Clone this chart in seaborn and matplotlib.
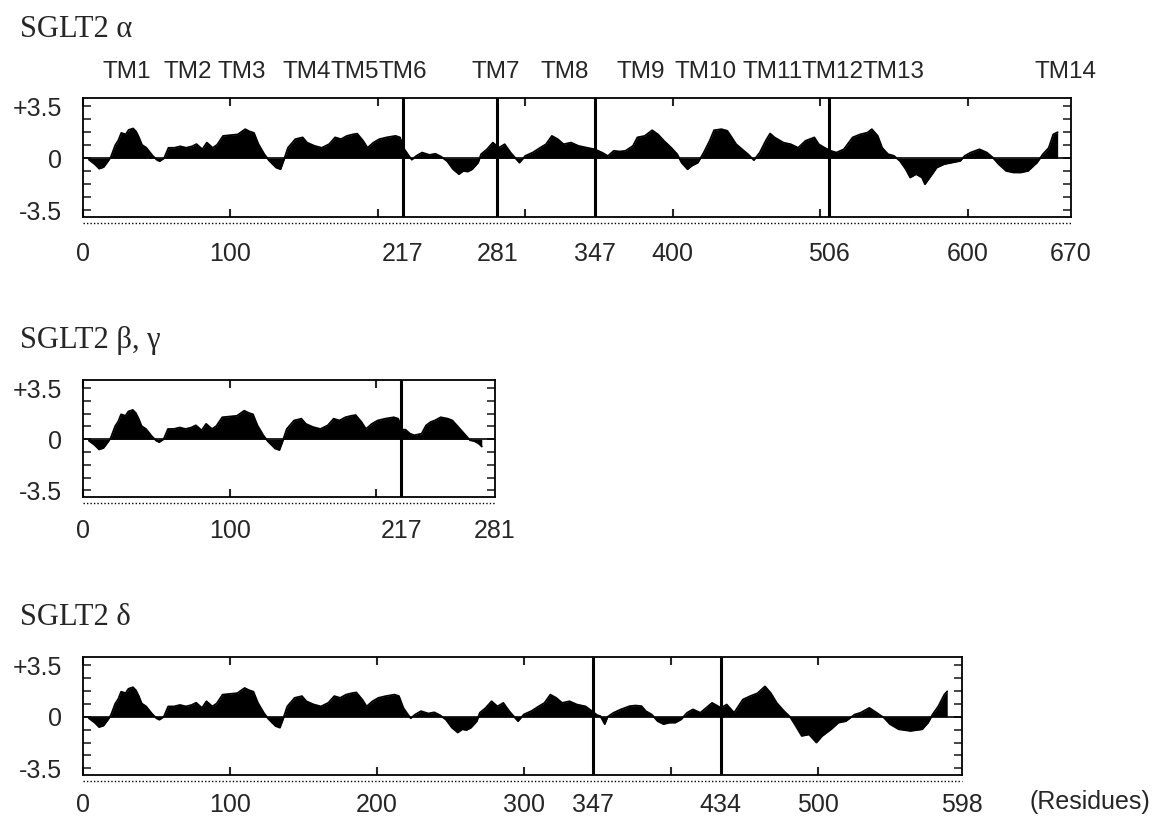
import matplotlib.pyplot as plt
import matplotlib.transforms as mtransforms
import pandas as pd
import seaborn as sns
from matplotlib.ticker import MultipleLocator

# Hydropathy profile of SGLT2 alpha (residue, value)
alpha_res = [4, 8, 11, 14, 17, 19, 22, 24, 26, 29, 31, 34, 36, 38, 40, 43, 47, 50, 52, 55,
             58, 62, 66, 70, 74, 77, 81, 84, 88, 91, 95, 100, 105, 110, 113, 116, 119, 123, 126, 131,
             134, 136, 139, 144, 149, 152, 157, 162, 167, 171, 175, 179, 183, 186, 190, 193, 197, 201, 206, 212,
             215, 218, 221, 223, 226, 230, 235, 239, 243, 247, 251, 255, 258, 261, 264, 268, 270, 274, 278, 282,
             286, 290, 293, 296, 300, 305, 310, 314, 318, 322, 326, 331, 336, 342, 347, 352, 356, 360, 364, 368,
             373, 376, 381, 386, 390, 394, 399, 403, 406, 410, 413, 417, 421, 425, 428, 433, 437, 440, 443, 447,
             451, 455, 459, 463, 466, 469, 475, 480, 485, 490, 496, 499, 503, 507, 511, 516, 522, 527, 532, 535,
             539, 542, 546, 550, 554, 558, 561, 565, 569, 571, 575, 579, 584, 589, 595, 598, 602, 608, 613, 617,
             621, 626, 631, 636, 641, 647, 651, 655, 658, 661]
alpha_hyd = [-0.1, -0.4, -0.7, -0.6, -0.2, 0.1, 0.9, 1.2, 1.7, 1.6, 1.9, 2.0, 1.8, 1.4, 0.9, 0.7, 0.2, -0.1, -0.2, 0.0,
             0.7, 0.7, 0.8, 0.7, 0.8, 0.95, 0.6, 1.05, 0.7, 0.9, 1.5, 1.55, 1.6, 1.95, 1.8, 1.7, 0.95, 0.27, -0.13, -0.63,
             -0.74, -0.2, 0.7, 1.28, 1.4, 1.05, 0.83, 0.7, 0.95, 1.4, 1.28, 1.5, 1.6, 1.65, 1.17, 0.7, 1.05, 1.28, 1.4, 1.5,
             1.4, 0.6, 0.16, -0.1, 0.15, 0.38, 0.22, 0.3, 0.1, -0.2, -0.74, -1.07, -0.85, -0.9, -0.74, -0.3, 0.27, 0.6, 1.05, 0.7,
             0.94, 0.38, 0.04, -0.3, 0.16, 0.38, 0.7, 0.94, 1.5, 1.28, 0.94, 1.05, 0.83, 0.7, 0.6, 0.38, 0.15, 0.5, 0.45, 0.5,
             0.83, 1.4, 1.5, 1.88, 1.6, 1.17, 0.7, 0.27, -0.3, -0.74, -0.5, -0.3, 0.38, 1.17, 1.88, 1.95, 1.84, 1.4, 0.94, 0.6,
             0.27, -0.13, 0.38, 1.17, 1.66, 1.4, 1.05, 0.94, 0.7, 1.17, 1.4, 0.94, 0.7, 0.5, 0.38, 0.6, 1.4, 1.6, 1.72, 1.95,
             1.5, 0.7, 0.27, 0.16, -0.18, -0.74, -1.3, -1.07, -1.3, -1.75, -1.2, -0.63, -0.4, -0.3, -0.18, 0.16, 0.38, 0.6, 0.38, 0.05,
             -0.4, -0.85, -0.96, -0.96, -0.85, -0.3, 0.27, 0.7, 1.6, 1.75]

# SGLT2 beta/gamma: alpha up to 217, then its own C-terminal stretch
beta_tail_res = [218, 220, 223, 226, 231, 234, 237, 240, 244, 249, 252, 256, 260, 264, 267, 270, 272]
beta_tail_hyd = [0.65, 0.65, 0.38, 0.27, 0.38, 0.94, 1.17, 1.28, 1.5, 1.4, 1.28, 0.83, 0.38, -0.07, -0.13, -0.3, -0.5]

# SGLT2 delta: alpha up to 347, then a new stretch and the shifted C-terminus
delta_mid_res = [350, 352, 355, 357, 361, 366, 372, 376, 380, 383, 387, 391, 395, 399, 403, 407, 411, 415, 420, 424,
                 428, 432, 434]
delta_mid_hyd = [0.1, 0.05, -0.5, 0.0, 0.27, 0.5, 0.72, 0.76, 0.72, 0.38, 0.15, -0.3, -0.5, -0.4, -0.4, -0.18, 0.27, 0.5, 0.27, 0.6,
                 0.94, 0.72, 0.6]
delta_tail_res = [438, 443, 449, 454, 459, 464, 468, 472, 477, 481, 485, 489, 494, 499, 503, 509, 514, 519, 525, 529,
                  535, 540, 545, 549, 555, 563, 571, 575, 578, 582, 586, 588]
delta_tail_hyd = [0.83, 0.27, 1.17, 1.4, 1.6, 2.06, 1.6, 0.94, 0.38, 0.0, -0.63, -1.3, -1.2, -1.75, -1.3, -0.85, -0.4, -0.3, 0.15, 0.27,
                  0.6, 0.27, -0.07, -0.5, -0.85, -0.96, -0.85, -0.4, 0.15, 0.72, 1.5, 1.72]

tm_names = ['TM1', 'TM2', 'TM3', 'TM4', 'TM5', 'TM6', 'TM7', 'TM8', 'TM9', 'TM10', 'TM11', 'TM12', 'TM13', 'TM14']
tm_pos = [30, 71, 108, 152, 184, 217, 280, 327, 378, 422, 468, 508, 550, 666]

alpha_ticks = [0, 100, 217, 281, 347, 400, 506, 600, 670]
beta_ticks = [0, 100, 217, 281]
delta_ticks = [0, 100, 200, 300, 347, 434, 500, 598]

alpha_lines = [217, 281, 347, 506]
beta_lines = [217]
delta_lines = [347, 434]

sns.set_style('ticks')
plt.rcParams['font.family'] = ['Liberation Sans', 'DejaVu Sans']

alpha = pd.DataFrame({'residue': alpha_res, 'hydropathy': alpha_hyd})
beta = pd.concat([alpha[alpha.residue <= 217],
                  pd.DataFrame({'residue': beta_tail_res, 'hydropathy': beta_tail_hyd})], ignore_index=True)
delta = pd.concat([alpha[alpha.residue <= 345],
                   pd.DataFrame({'residue': delta_mid_res, 'hydropathy': delta_mid_hyd}),
                   pd.DataFrame({'residue': delta_tail_res, 'hydropathy': delta_tail_hyd})], ignore_index=True)


def draw_panel(ax, df, xmax, ticks, lines, pad):
    ax.fill_between(df.residue, df.hydropathy, 0, color='black', lw=0)
    sns.lineplot(data=df, x='residue', y='hydropathy', ax=ax, color='black', lw=1.3,
                 estimator=None, sort=False)
    ax.axhline(0, color='black', lw=1.2)
    for x in lines:
        ax.axvline(x, color='black', lw=2.2)
    ax.set_xlim(0, xmax)
    ax.set_ylim(-3.95, 4.05)
    ax.set_xticks(ticks)
    ax.set_xticklabels([str(t) for t in ticks])
    ax.xaxis.set_minor_locator(MultipleLocator(100))
    ax.xaxis.remove_overlapping_locs = False
    ax.set_yticks([-3.5, 0, 3.5])
    ax.set_yticklabels(['-3.5', '0', '+3.5'])
    ax.yaxis.set_minor_locator(MultipleLocator(0.875))
    ax.tick_params(axis='x', which='major', length=0, pad=pad, labelsize=18)
    ax.tick_params(axis='x', which='minor', direction='in', length=6, width=1.5, top=True, bottom=True)
    ax.tick_params(axis='y', which='both', direction='in', length=6, width=1.2,
                   left=True, right=True, pad=15, labelsize=18)
    for s in ax.spines.values():
        s.set_linewidth(1.3)
        s.set_color('black')
    ax.plot([0, 1], [-0.05, -0.05], transform=ax.transAxes, color='black', lw=1,
            ls=(0, (1, 1.5)), clip_on=False)
    ax.set_xlabel('')
    ax.set_ylabel('')


fig = plt.figure(figsize=(11.57, 8.17), dpi=100)
ax1 = fig.add_axes([0.0717, 0.7344, 0.8539, 0.1457])
ax2 = fig.add_axes([0.0717, 0.3917, 0.3561, 0.1432])
ax3 = fig.add_axes([0.0717, 0.0514, 0.7597, 0.1444])

draw_panel(ax1, alpha, 670, alpha_ticks, alpha_lines, 18)
draw_panel(ax2, beta, 281, beta_ticks, beta_lines, 16)
draw_panel(ax3, delta, 598, delta_ticks, delta_lines, 13)

trans = mtransforms.blended_transform_factory(ax1.transData, ax1.transAxes)
for name, pos in zip(tm_names, tm_pos):
    ax1.text(pos, 1.17, name, transform=trans, ha='center', va='baseline', fontsize=17.5)

serif = ['Liberation Serif', 'DejaVu Serif']
fig.text(0.0173, 0.9547, 'SGLT2 \u03b1', family=serif, fontsize=22, va='baseline')
fig.text(0.0173, 0.574, 'SGLT2 \u03b2, \u03b3', family=serif, fontsize=22, va='baseline')
fig.text(0.0173, 0.235, 'SGLT2 \u03b4', family=serif, fontsize=22, va='baseline')
fig.text(0.942, 0.0185, '(Residues)', ha='center', va='center', fontsize=18)

fig.savefig('out.png', dpi=100)
